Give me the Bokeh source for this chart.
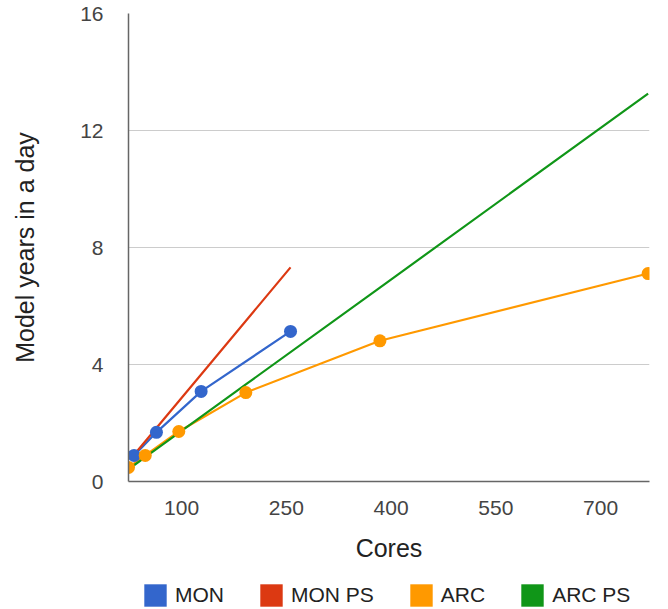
from bokeh.plotting import figure
from bokeh.layouts import column
from bokeh.models import ColumnDataSource, Legend, LegendItem, Range1d, FixedTicker
from bokeh.embed import file_html
from bokeh.resources import INLINE

# ---- data ----
mon_cores = [32, 64, 128, 256]
mon_years = [0.89, 1.68, 3.08, 5.13]
mon_ps_cores = [32, 64, 128, 256]
mon_ps_years = [0.92, 1.83, 3.66, 7.32]
arc_cores = [24, 48, 96, 192, 384, 768]
arc_years = [0.48, 0.89, 1.71, 3.04, 4.81, 7.11]
arc_ps_cores = [24, 48, 96, 192, 384, 768]
arc_ps_years = [0.415, 0.83, 1.66, 3.32, 6.63, 13.26]

x_ticks = [100, 250, 400, 550, 700]
y_ticks = [0, 4, 8, 12, 16]
series_names = ["MON", "MON PS", "ARC", "ARC PS"]
colors = ["#3366cc", "#dc3912", "#ff9900", "#109618"]

FONT = "Liberation Sans"

p = figure(width=668, height=573, output_backend="svg", toolbar_location=None,
           x_range=Range1d(24, 770), y_range=Range1d(0, 16),
           min_border_left=128, min_border_right=19, min_border_top=13,
           min_border_bottom=92)
p.outline_line_color = None
p.background_fill_color = "white"
p.border_fill_color = "white"
p.xgrid.visible = False
p.ygrid.grid_line_color = "#cccccc"
p.ygrid.grid_line_width = 1

p.xaxis.ticker = FixedTicker(ticks=x_ticks)
p.yaxis.ticker = FixedTicker(ticks=y_ticks)
for ax in (p.xaxis, p.yaxis):
    ax.major_tick_line_color = None
    ax.minor_tick_line_color = None
    ax.axis_line_color = "#666666"
    ax.axis_line_width = 1.5
    ax.major_label_text_font = FONT
    ax.major_label_text_font_size = "21px"
    ax.major_label_text_color = "#444444"
    ax.axis_label_text_font = FONT
    ax.axis_label_text_font_size = "25px"
    ax.axis_label_text_font_style = "normal"
    ax.axis_label_text_color = "#222222"

p.xaxis.axis_label = "Cores"
p.yaxis.axis_label = "Model years in a day"
p.xaxis.major_label_standoff = 13
p.xaxis.axis_label_standoff = 16
p.yaxis.major_label_standoff = 19
p.yaxis.axis_label_standoff = 38

src_mon = ColumnDataSource(dict(x=mon_cores, y=mon_years))
src_mon_ps = ColumnDataSource(dict(x=mon_ps_cores, y=mon_ps_years))
src_arc = ColumnDataSource(dict(x=arc_cores, y=arc_years))
src_arc_ps = ColumnDataSource(dict(x=arc_ps_cores, y=arc_ps_years))
sources = [src_mon, src_mon_ps, src_arc, src_arc_ps]

p.line("x", "y", source=src_mon, line_color=colors[0], line_width=2.2)
p.line("x", "y", source=src_mon_ps, line_color=colors[1], line_width=2.2)
p.line("x", "y", source=src_arc, line_color=colors[2], line_width=2.2)
p.line("x", "y", source=src_arc_ps, line_color=colors[3], line_width=2.2)
p.scatter("x", "y", source=src_mon, size=13, fill_color=colors[0], line_color=None)
p.scatter("x", "y", source=src_arc, size=13, fill_color=colors[2], line_color=None)

# ---- legend strip below the chart ----
lg = figure(width=668, height=36, output_backend="svg", toolbar_location=None,
            x_range=Range1d(24, 770), y_range=Range1d(0, 16),
            x_axis_location=None, y_axis_location=None,
            min_border_left=0, min_border_right=0, min_border_top=0,
            min_border_bottom=0)
lg.outline_line_color = None
lg.xgrid.visible = False
lg.ygrid.visible = False

items = []
for name, c, s in zip(series_names, colors, sources):
    # zero-size quads: they only provide the legend swatch
    r = lg.quad(left="x", right="x", top="y", bottom="y", source=s,
                fill_color=c, line_color=None)
    items.append(LegendItem(label=name, renderers=[r], index=0))

legend = Legend(items=items, orientation="horizontal", location=(13, 0),
                glyph_width=28, glyph_height=28, label_standoff=6, spacing=33,
                padding=0, margin=0,
                label_text_font=FONT, label_text_font_size="21px",
                label_text_color="#222222", border_line_color=None,
                background_fill_alpha=0)
lg.add_layout(legend, "center")

layout = column(p, lg, spacing=0)
open("out.html", "w").write(file_html(layout, INLINE))
